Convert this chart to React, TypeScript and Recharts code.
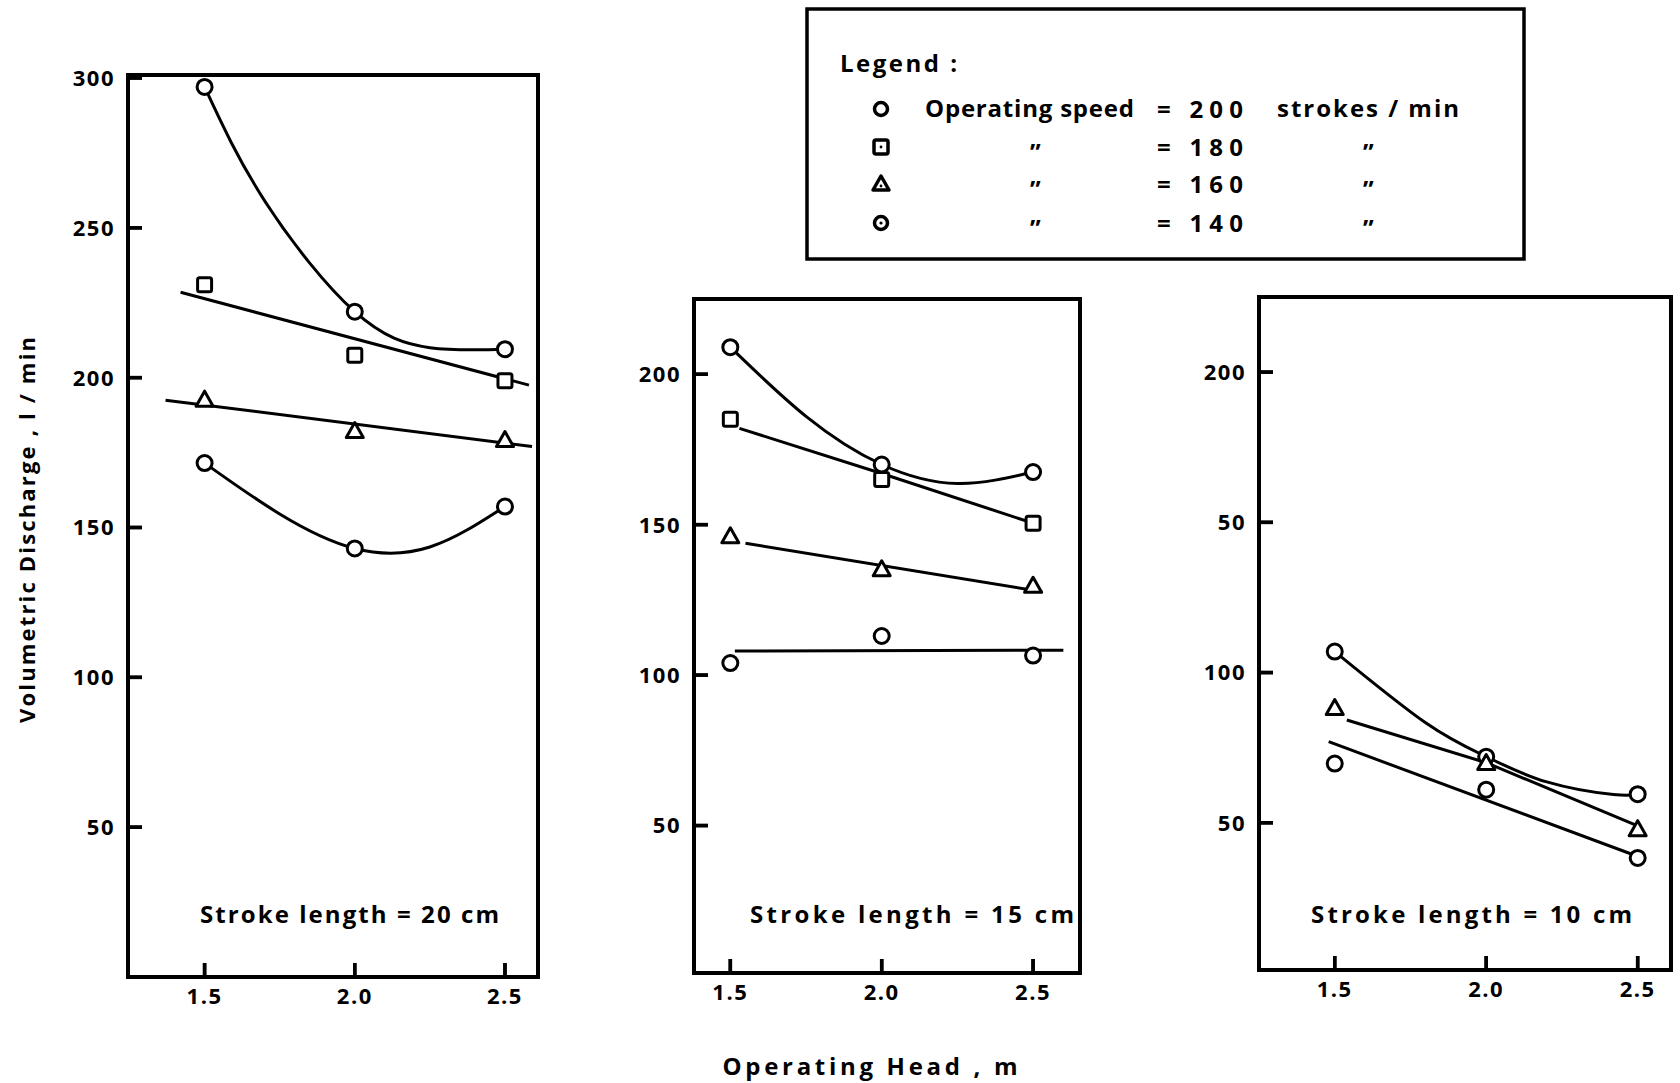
import React from 'react';
import { ComposedChart, Line, Scatter, XAxis, YAxis, ReferenceArea } from 'recharts';

const heads = [1.5, 2.0, 2.5];
const headTicks = [1.5, 2.0, 2.5];
const tallTicks = [50, 100, 150, 200, 250, 300];
const shortTicks = [50, 100, 150, 200];

// stroke length 20 cm: measured points per speed
const s20at200 = [297, 222, 209.5];
const s20at180 = [231, 207.5, 199];
const s20at160 = [192.5, 182, 179];
const s20at140 = [171.5, 143, 157];
// fitted curves
const s20fit200x = [1.5, 1.7, 2.0, 2.25, 2.5];
const s20fit200y = [297, 259, 222, 210, 209.5];
const s20fit180x = [1.42, 2.58];
const s20fit180y = [228.5, 197.5];
const s20fit160x = [1.37, 2.59];
const s20fit160y = [192.5, 177];
const s20fit140x = [1.5, 1.75, 2.0, 2.25, 2.5];
const s20fit140y = [171.5, 154.5, 143, 143.5, 157];

// stroke length 15 cm
const s15at200 = [209, 170, 167.5];
const s15at180 = [185, 165, 150.5];
const s15at160 = [146, 135, 129.5];
const s15at140 = [104, 113, 106.5];
const s15fit200x = [1.5, 1.75, 2.0, 2.25, 2.5];
const s15fit200y = [209, 186, 170, 163.7, 167.5];
const s15fit180x = [1.53, 2.0, 2.5];
const s15fit180y = [182, 167, 150.5];
const s15fit160x = [1.55, 2.53];
const s15fit160y = [143.8, 127.7];
const s15fit140x = [1.515, 2.6];
const s15fit140y = [108, 108.3];

// stroke length 10 cm (no 180 series)
const s10at200 = [107, 72, 59.5];
const s10at160 = [88, 69.7, 47.7];
const s10at140 = [69.7, 61, 38.3];
const s10fit200x = [1.5, 1.8, 2.0, 2.2, 2.42, 2.5];
const s10fit200y = [107, 83.3, 72, 63.6, 59.4, 59.5];
const s10fit160x = [1.54, 2.0, 2.5];
const s10fit160y = [84.2, 70, 49];
const s10fit140x = [1.48, 2.49];
const s10fit140y = [77, 39.2];

const FONT = '"Open Sans", "DejaVu Sans", sans-serif';

const pts = (xs: number[], ys: number[]) => xs.map((x, i) => ({ x, y: ys[i] }));

const OpenCircle = (p: any) => (
  <circle cx={p.cx} cy={p.cy} r={7.5} fill="#fff" stroke="#000" strokeWidth={3} />
);
const OpenSquare = (p: any) => (
  <rect x={p.cx - 7} y={p.cy - 7} width={14} height={14} rx={2} fill="#fff" stroke="#000" strokeWidth={3} />
);
const OpenTriangle = (p: any) => (
  <path
    d={`M${p.cx},${p.cy - 9} L${p.cx + 8.5},${p.cy + 6} L${p.cx - 8.5},${p.cy + 6} Z`}
    fill="#fff"
    stroke="#000"
    strokeWidth={3}
    strokeLinejoin="round"
  />
);

const shapes: Record<string, any> = { c: OpenCircle, s: OpenSquare, t: OpenTriangle };

// inward tick marks, placed by the chart scales at the frame edge
const TICK_LEN = 14;
const TICK_W = 3.5;
const YTickMark = (p: any) => (
  <rect x={p.cx} y={p.cy - TICK_W / 2} width={TICK_LEN} height={TICK_W} fill="#000" stroke="none" />
);
const XTickMark = (p: any) => (
  <rect x={p.cx - TICK_W / 2} y={p.cy - TICK_LEN} width={TICK_W} height={TICK_LEN} fill="#000" stroke="none" />
);

const tickText = { fill: '#000', fontSize: 22, fontFamily: FONT, fontWeight: 700, letterSpacing: 1.5 };

const YTick = (p: any) => (
  <text x={p.x - 12} y={p.y} dy="0.36em" textAnchor="end" {...tickText}>
    {p.fmt(p.payload.value)}
  </text>
);
const XTick = (p: any) => (
  <text x={p.x} y={p.y + 10} dy="0.72em" textAnchor="middle" {...tickText}>
    {p.payload.value.toFixed(1)}
  </text>
);

interface SeriesDef {
  key: string;
  shape: string;
  marks: number[];
  fitX: number[];
  fitY: number[];
  curve: 'natural' | 'linear';
}

interface PanelDef {
  left: number;
  top: number;
  plotW: number;
  plotH: number;
  xDomain: [number, number];
  yDomain: [number, number];
  yTicks: number[];
  series: SeriesDef[];
  yFmt?: (v: number) => string;
}

const ML = 90;
const MT = 20;
const MR = 8;
const MB = 60;

function Panel({ left, top, plotW, plotH, xDomain, yDomain, yTicks, series, yFmt }: PanelDef) {
  const fmt = yFmt || ((v: number) => String(v));
  const yTickPts = yTicks.map((v) => ({ x: xDomain[0], y: v }));
  const xTickPts = headTicks.map((v) => ({ x: v, y: yDomain[0] }));
  return (
    <div style={{ position: 'absolute', left: left - ML, top: top - MT }}>
      <ComposedChart
        width={plotW + ML + MR}
        height={plotH + MT + MB}
        margin={{ top: MT, right: MR, bottom: MB - 40, left: ML - 60 }}
      >
        <ReferenceArea
          x1={xDomain[0]}
          x2={xDomain[1]}
          y1={yDomain[0]}
          y2={yDomain[1]}
          fill="none"
          fillOpacity={0}
          stroke="#000"
          strokeWidth={4}
          ifOverflow="visible"
        />
        <XAxis
          dataKey="x"
          type="number"
          domain={xDomain}
          ticks={headTicks}
          allowDataOverflow
          axisLine={false}
          tickLine={false}
          tickSize={1}
          tickMargin={0}
          tick={(p: any) => <XTick {...p} />}
          height={40}
          interval={0}
        />
        <YAxis
          dataKey="y"
          type="number"
          domain={yDomain}
          ticks={yTicks}
          allowDataOverflow
          axisLine={false}
          tickLine={false}
          tickSize={1}
          tickMargin={0}
          tick={(p: any) => <YTick {...p} fmt={fmt} />}
          width={60}
          interval={0}
        />
        {series.map((s) => (
          <Line
            key={'fit' + s.key}
            data={pts(s.fitX, s.fitY)}
            dataKey="y"
            type={s.curve}
            stroke="#000"
            strokeWidth={3}
            dot={false}
            activeDot={false}
            isAnimationActive={false}
          />
        ))}
        {series.map((s) => (
          <Scatter
            key={'pt' + s.key}
            data={pts(heads, s.marks)}
            dataKey="y"
            shape={shapes[s.shape]}
            isAnimationActive={false}
          />
        ))}
        <Scatter data={yTickPts} dataKey="y" shape={YTickMark} isAnimationActive={false} />
        <Scatter data={xTickPts} dataKey="y" shape={XTickMark} isAnimationActive={false} />
      </ComposedChart>
    </div>
  );
}

const panel20: SeriesDef[] = [
  { key: '200', shape: 'c', marks: s20at200, fitX: s20fit200x, fitY: s20fit200y, curve: 'natural' },
  { key: '180', shape: 's', marks: s20at180, fitX: s20fit180x, fitY: s20fit180y, curve: 'linear' },
  { key: '160', shape: 't', marks: s20at160, fitX: s20fit160x, fitY: s20fit160y, curve: 'linear' },
  { key: '140', shape: 'c', marks: s20at140, fitX: s20fit140x, fitY: s20fit140y, curve: 'natural' },
];
const panel15: SeriesDef[] = [
  { key: '200', shape: 'c', marks: s15at200, fitX: s15fit200x, fitY: s15fit200y, curve: 'natural' },
  { key: '180', shape: 's', marks: s15at180, fitX: s15fit180x, fitY: s15fit180y, curve: 'linear' },
  { key: '160', shape: 't', marks: s15at160, fitX: s15fit160x, fitY: s15fit160y, curve: 'linear' },
  { key: '140', shape: 'c', marks: s15at140, fitX: s15fit140x, fitY: s15fit140y, curve: 'linear' },
];
const panel10: SeriesDef[] = [
  { key: '200', shape: 'c', marks: s10at200, fitX: s10fit200x, fitY: s10fit200y, curve: 'natural' },
  { key: '160', shape: 't', marks: s10at160, fitX: s10fit160x, fitY: s10fit160y, curve: 'linear' },
  { key: '140', shape: 'c', marks: s10at140, fitX: s10fit140x, fitY: s10fit140y, curve: 'linear' },
];

const panels: PanelDef[] = [
  { left: 128, top: 75, plotW: 410, plotH: 902, xDomain: [1.245, 2.61], yDomain: [0, 301], yTicks: tallTicks, series: panel20 },
  { left: 694, top: 299, plotW: 386, plotH: 674, xDomain: [1.38, 2.655], yDomain: [1, 225], yTicks: shortTicks, series: panel15 },
  {
    left: 1259,
    top: 297,
    plotW: 412,
    plotH: 673,
    xDomain: [1.25, 2.61],
    yDomain: [1, 225],
    yTicks: shortTicks,
    series: panel10,
    yFmt: (v: number) => (v === 150 ? '50' : String(v)),
  },
];

const txt = { fontFamily: FONT, fontWeight: 700, fontSize: 24, fill: '#000' } as const;

function LegendSymbol({ kind, x, y }: { kind: string; x: number; y: number }) {
  if (kind === 's')
    return (
      <g>
        <rect x={x - 7} y={y - 7} width={14} height={14} rx={2} fill="#fff" stroke="#000" strokeWidth={3.5} />
        <circle cx={x} cy={y} r={1.4} fill="#000" />
      </g>
    );
  if (kind === 't')
    return (
      <g>
        <path d={`M${x},${y - 8} L${x + 8},${y + 6} L${x - 8},${y + 6} Z`} fill="#fff" stroke="#000" strokeWidth={3.5} strokeLinejoin="round" />
        <circle cx={x} cy={y + 2} r={1.4} fill="#000" />
      </g>
    );
  return (
    <g>
      <circle cx={x} cy={y} r={6.5} fill="#fff" stroke="#000" strokeWidth={3.5} />
      {kind === 'cd' && <circle cx={x} cy={y} r={1.6} fill="#000" />}
    </g>
  );
}

const legendRows = [
  { kind: 'c', label: 'Operating speed', value: '= 200', unit: 'strokes / min' },
  { kind: 's', label: '\u201D', value: '= 180', unit: '\u201D' },
  { kind: 't', label: '\u201D', value: '= 160', unit: '\u201D' },
  { kind: 'cd', label: '\u201D', value: '= 140', unit: '\u201D' },
];
const legendRowY = [109, 147, 184, 223];

// frame tick marks repeated on top, from the same panel geometry
function FrameTicks({ p }: { p: PanelDef }) {
  const sx = (v: number) => p.left + ((v - p.xDomain[0]) / (p.xDomain[1] - p.xDomain[0])) * p.plotW;
  const sy = (v: number) => p.top + ((p.yDomain[1] - v) / (p.yDomain[1] - p.yDomain[0])) * p.plotH;
  const bottom = p.top + p.plotH;
  return (
    <g>
      {p.yTicks.map((v) => (
        <line key={'y' + v} x1={p.left} x2={p.left + TICK_LEN} y1={sy(v)} y2={sy(v)} stroke="#000" strokeWidth={TICK_W} />
      ))}
      {headTicks.map((v) => (
        <line key={'x' + v} x1={sx(v)} x2={sx(v)} y1={bottom} y2={bottom - TICK_LEN} stroke="#000" strokeWidth={TICK_W} />
      ))}
    </g>
  );
}

function Overlay() {
  return (
    <svg width={1680} height={1083} style={{ position: 'absolute', left: 0, top: 0, pointerEvents: 'none' }}>
      {panels.map((p, i) => (
        <FrameTicks key={i} p={p} />
      ))}
      <rect x={807} y={9} width={717} height={250} fill="none" stroke="#000" strokeWidth={3.5} />
      <text x={840} y={72} textLength={117} lengthAdjust="spacing" {...txt}>Legend :</text>
      {legendRows.map((r, i) => {
        const y = legendRowY[i];
        const first = i === 0;
        return (
          <g key={i}>
            <LegendSymbol kind={r.kind} x={881} y={y} />
            {first ? (
              <text x={925} y={y + 8} textLength={209} lengthAdjust="spacing" {...txt}>{r.label}</text>
            ) : (
              <text x={1030} y={y + 14} {...txt}>{r.label}</text>
            )}
            <text x={1157} y={y + 9} textLength={86} lengthAdjust="spacing" {...txt}>{r.value}</text>
            {first ? (
              <text x={1277} y={y + 8} textLength={182} lengthAdjust="spacing" {...txt}>{r.unit}</text>
            ) : (
              <text x={1363} y={y + 14} {...txt}>{r.unit}</text>
            )}
          </g>
        );
      })}
      <text x={200} y={923} textLength={299} lengthAdjust="spacing" {...txt}>Stroke length = 20 cm</text>
      <text x={750} y={923} textLength={324} lengthAdjust="spacing" {...txt}>Stroke length  = 15  cm</text>
      <text x={1311} y={923} textLength={321} lengthAdjust="spacing" {...txt}>Stroke length =  10  cm</text>
      <text
        x={0}
        y={0}
        transform="translate(35,530) rotate(-90)"
        textAnchor="middle"
        textLength={386}
        lengthAdjust="spacing"
        {...txt}
        fontSize={22}
      >
        Volumetric Discharge ,  l / min
      </text>
      <text x={870} y={1075} textAnchor="middle" textLength={295} lengthAdjust="spacing" {...txt}>
        Operating  Head ,  m
      </text>
    </svg>
  );
}

export default function App() {
  return (
    <div style={{ position: 'absolute', left: 0, top: 0, width: 1680, height: 1083, background: '#fff' }}>
      {panels.map((p, i) => (
        <Panel key={i} {...p} />
      ))}
      <Overlay />
    </div>
  );
}
